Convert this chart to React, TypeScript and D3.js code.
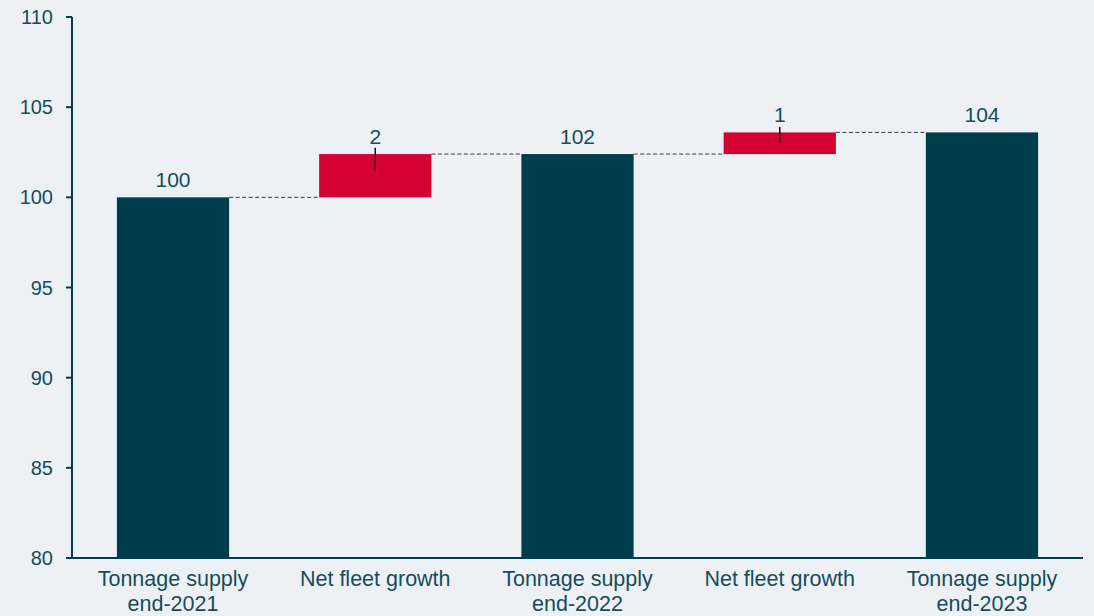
import React from "react";
import * as d3 from "d3";

const categories = [
  ["Tonnage supply", "end-2021"],
  ["Net fleet growth"],
  ["Tonnage supply", "end-2022"],
  ["Net fleet growth"],
  ["Tonnage supply", "end-2023"],
];
const barType = ["total", "delta", "total", "delta", "total"];
const barValues = [100, 2.4, 102.4, 1.2, 103.6];
const barLabels = ["100", "2", "102", "1", "104"];
// vertical whisker markers on the growth bars [low, high]; null when absent
const whiskers: ([number, number] | null)[] = [null, [101.5, 102.75], null, [103.0, 103.9], null];
const yTicks = [80, 85, 90, 95, 100, 105, 110];

const W = 1094;
const H = 616;
const M = { left: 72, right: 11, top: 17, bottom: 58 };

const BG = "#edf1f5";
const TEAL = "#003d4c";
const RED = "#d50032";
const TEXT = "#164c5c";
const FONT = "Liberation Sans, Arial, sans-serif";

export default function App() {
  const x = d3
    .scaleBand<number>()
    .domain(d3.range(categories.length))
    .range([M.left, W - M.right])
    .paddingInner(0.445)
    .paddingOuter(0.222);
  const y = d3.scaleLinear().domain([80, 110]).range([H - M.bottom, M.top]);

  let running = 0;
  const spans = barValues.map((v, i) => {
    if (barType[i] === "total") {
      running = v;
      return { lo: 80, hi: v, end: v };
    }
    const lo = running;
    running = running + v;
    return { lo, hi: running, end: running };
  });

  const bw = x.bandwidth();

  return (
    <svg
      width={W}
      height={H}
      style={{ position: "absolute", left: 0, top: 0, background: BG }}
      fontFamily={FONT}
    >
      <rect x={0} y={0} width={W} height={H} fill={BG} />
      {spans.slice(0, -1).map((s, i) => (
        <line
          key={"c" + i}
          x1={(x(i) as number) + bw}
          x2={x(i + 1) as number}
          y1={y(s.end)}
          y2={y(s.end)}
          stroke="#3a3a3a"
          strokeWidth={1}
          strokeDasharray="4,2.5"
        />
      ))}
      {spans.map((s, i) => (
        <rect
          key={"b" + i}
          x={x(i)}
          y={y(s.hi)}
          width={bw}
          height={y(s.lo) - y(s.hi)}
          fill={barType[i] === "total" ? TEAL : RED}
        />
      ))}
      {whiskers.map((w, i) =>
        w ? (
          <line
            key={"w" + i}
            x1={(x(i) as number) + bw / 2}
            x2={(x(i) as number) + bw / 2}
            y1={y(w[1])}
            y2={y(w[0])}
            stroke="#111"
            strokeWidth={1.5}
          />
        ) : null
      )}
      {spans.map((s, i) => (
        <text
          key={"l" + i}
          x={(x(i) as number) + bw / 2}
          y={y(s.hi) - 10}
          textAnchor="middle"
          fontSize={21}
          fill={TEXT}
        >
          {barLabels[i]}
        </text>
      ))}
      <line x1={M.left} x2={M.left} y1={y(110)} y2={y(80)} stroke={TEAL} strokeWidth={2} />
      {yTicks.map((t) => (
        <g key={"t" + t}>
          <line x1={M.left - 6} x2={M.left} y1={y(t)} y2={y(t)} stroke={TEAL} strokeWidth={2} />
          <text x={M.left - 19} y={y(t)} dy="0.35em" textAnchor="end" fontSize={20} fill={TEXT}>
            {t}
          </text>
        </g>
      ))}
      <line x1={M.left - 6} x2={W - M.right} y1={y(80)} y2={y(80)} stroke={TEAL} strokeWidth={2} />
      {categories.map((c, i) =>
        c.map((line, j) => (
          <text
            key={"x" + i + "-" + j}
            x={(x(i) as number) + bw / 2}
            y={y(80) + 28 + j * 24.5}
            textAnchor="middle"
            fontSize={21.5}
            fill={TEXT}
          >
            {line}
          </text>
        ))
      )}
    </svg>
  );
}
